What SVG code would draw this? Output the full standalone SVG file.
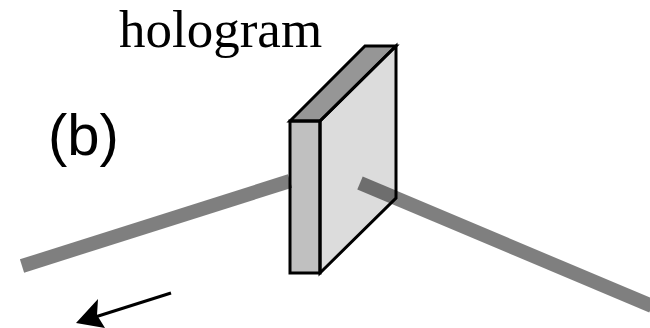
<svg xmlns="http://www.w3.org/2000/svg" width="650" height="328" viewBox="0 0 650 328">
<style>
.o{fill:none;stroke:#000;stroke-width:3;stroke-linejoin:miter}
.b{fill:none;stroke:#000;stroke-opacity:.5;stroke-width:14}
</style>
<rect width="650" height="328" fill="#fff"/>
<g id="hologram-fills">
<polygon points="290,121 365,46 396,46 320,121" fill="#969696"/>
<polygon points="320,121 396,46 396,198 320,273" fill="#dcdcdc"/>
<polygon points="290,121 320,121 320,273 290,273" fill="#c0c0c0"/>
</g>
<g id="connectors">
<line class="b" x1="22" y1="266" x2="290" y2="181"/>
<line class="b" x1="360" y1="183" x2="652" y2="306"/>
<line x1="171" y1="293" x2="92" y2="318" stroke="#000" stroke-width="3"/>
<polygon points="76,323 98,299 97,315 105,328" fill="#000"/>
</g>
<g id="hologram-outline">
<polygon class="o" points="290,121 365,46 396,46 320,121"/>
<polygon class="o" points="320,121 396,46 396,198 320,273"/>
<polygon class="o" points="290,121 320,121 320,273 290,273"/>
</g>
<text x="119" y="47" font-family="Liberation Serif, serif" font-size="53">hologram</text>
<text x="48" y="155" font-family="Liberation Sans, sans-serif" font-size="58">(b)</text>
</svg>
